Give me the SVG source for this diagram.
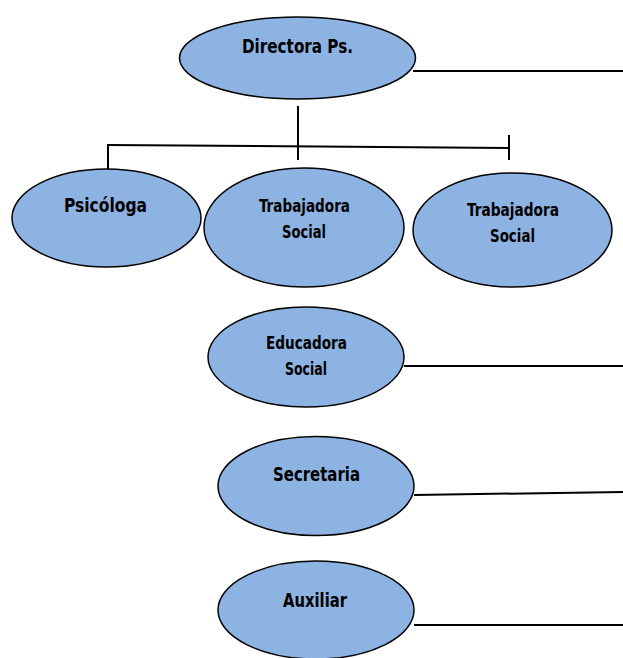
<svg xmlns="http://www.w3.org/2000/svg" width="623" height="658" viewBox="0 0 623 658">
<style>
.node ellipse{fill:#8db3e2;stroke:#000;stroke-width:1.5}
.node text{font-family:"Liberation Sans Narrow","DejaVu Sans Condensed","Liberation Sans",sans-serif;font-weight:bold;fill:#000;text-anchor:middle}
#connectors line{stroke:#000;stroke-width:2;fill:none}
</style>
<rect width="623" height="658" fill="#fff"/>
<g id="connectors">
<line x1="413" y1="71" x2="623" y2="71"/>
<line x1="298" y1="106" x2="298" y2="160"/>
<line x1="107" y1="145" x2="509" y2="148"/>
<line x1="108" y1="145" x2="108" y2="174"/>
<line x1="509" y1="135" x2="509" y2="160"/>
<line x1="404" y1="366" x2="623" y2="366"/>
<line x1="414" y1="495" x2="623" y2="492"/>
<line x1="414" y1="625" x2="623" y2="625"/>
</g>
<g id="directora" class="node">
<ellipse cx="297.5" cy="58" rx="118" ry="41"/>
<text x="297.5" y="53" font-size="19.5" textLength="111" lengthAdjust="spacingAndGlyphs">Directora Ps.</text>
</g>
<g id="psicologa" class="node">
<ellipse cx="106.5" cy="218" rx="94.5" ry="49"/>
<text x="105.5" y="212" font-size="20" textLength="83" lengthAdjust="spacingAndGlyphs">Psicóloga</text>
</g>
<g id="trabajadora1" class="node">
<ellipse cx="304" cy="227.5" rx="100" ry="59.5"/>
<text x="304.5" y="212" font-size="18" textLength="91" lengthAdjust="spacingAndGlyphs">Trabajadora</text>
<text x="304" y="238" font-size="18" textLength="44" lengthAdjust="spacingAndGlyphs">Social</text>
</g>
<g id="trabajadora2" class="node">
<ellipse cx="512.5" cy="230" rx="99.5" ry="57"/>
<text x="513" y="216" font-size="18" textLength="92" lengthAdjust="spacingAndGlyphs">Trabajadora</text>
<text x="512.5" y="242" font-size="18" textLength="45" lengthAdjust="spacingAndGlyphs">Social</text>
</g>
<g id="educadora" class="node">
<ellipse cx="306" cy="357" rx="98" ry="50"/>
<text x="306.5" y="349" font-size="17" textLength="81" lengthAdjust="spacingAndGlyphs">Educadora</text>
<text x="306" y="375" font-size="17" textLength="42" lengthAdjust="spacingAndGlyphs">Social</text>
</g>
<g id="secretaria" class="node">
<ellipse cx="316" cy="486" rx="98" ry="49.5"/>
<text x="316.5" y="481" font-size="19" textLength="87" lengthAdjust="spacingAndGlyphs">Secretaria</text>
</g>
<g id="auxiliar" class="node">
<ellipse cx="316" cy="610" rx="98" ry="49"/>
<text x="315" y="607" font-size="19" textLength="64" lengthAdjust="spacingAndGlyphs">Auxiliar</text>
</g>
</svg>
